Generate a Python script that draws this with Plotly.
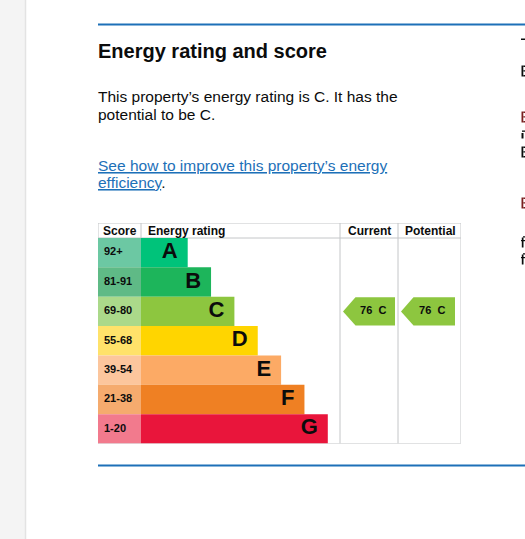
import plotly.graph_objects as go

W, H = 525, 539

# ---------------- data ----------------
bands = ["A", "B", "C", "D", "E", "F", "G"]
score_ranges = ["92+", "81-91", "69-80", "55-68", "39-54", "21-38", "1-20"]
band_min_score = [92, 81, 69, 55, 39, 21, 1]
band_length = [2, 3, 4, 5, 6, 7, 8]
band_colors = ["#00c37a", "#1db55b", "#8dc63f", "#ffd500", "#fcaa65", "#ef8023", "#e9153b"]
score_colors = ["#6cc8a3", "#5fba86", "#abd98a", "#ffe26a", "#fcc69d", "#f5ab6e", "#f27a8d"]
current_score = 76
potential_score = 76
column_titles = ["Score", "Energy rating", "Current", "Potential"]

FONT = "Liberation Sans, Arial, sans-serif"
INK = "#0b0c0c"
BLUE = "#1d70b8"
BORDER = "#c4c6c8"
DARKRED = "#7a1f1f"


def band_index(score):
    for i, m in enumerate(band_min_score):
        if score >= m:
            return i
    return len(bands) - 1


# ---------------- layout geometry (pixels) ----------------
def pxx(p):
    return p / W


def pxy(p):
    return 1 - p / H


T_LEFT, T_RIGHT = 98, 461
T_TOP, T_HEAD, T_BOTTOM = 223, 238, 443.5
RATING_X0 = 141
UNIT = 23.35
ROW = (T_BOTTOM - T_HEAD) / len(bands)


def ux(p):
    return (p - RATING_X0) / UNIT


def uy(p):
    return (p - T_HEAD) / ROW - 0.5


COL_CUR = (340, 398)
COL_POT = (398, 461)

idx = list(range(len(bands)))
x_left = ux(T_LEFT)
x_right = ux(T_RIGHT)
y_top = uy(T_TOP)
y_bottom = uy(T_BOTTOM)

fig = go.Figure()

# score column cells
fig.add_trace(go.Bar(
    orientation="h", y=idx, x=[ux(RATING_X0) - x_left] * len(bands), base=x_left,
    width=1, marker=dict(color=score_colors, line=dict(width=0)), hoverinfo="skip",
))
# rating bars
fig.add_trace(go.Bar(
    orientation="h", y=idx, x=band_length, base=0,
    width=1, marker=dict(color=band_colors, line=dict(width=0)), hoverinfo="skip",
))
# band letters
fig.add_trace(go.Scatter(
    mode="text", x=[v - 10 / UNIT for v in band_length], y=idx, text=bands,
    textposition="middle left",
    textfont=dict(family=FONT, size=22, color=INK, weight="bold"), hoverinfo="skip",
))
# score labels
fig.add_trace(go.Scatter(
    mode="text", x=[x_left + 6 / UNIT] * len(bands), y=idx, text=score_ranges,
    textposition="middle right",
    textfont=dict(family=FONT, size=11, color=INK, weight="bold"), hoverinfo="skip",
))


# current / potential arrows
def add_arrow(score, col, inset_l, inset_r):
    r = band_index(score)
    tip = ux(col[0] + inset_l)
    body = ux(col[0] + inset_l + 12.5)
    right = ux(col[1] - inset_r)
    top, bot = r - 0.48, r + 0.48
    fig.add_trace(go.Scatter(
        x=[tip, body, right, right, body, tip], y=[r, top, top, bot, bot, r],
        mode="lines", fill="toself", fillcolor=band_colors[r],
        line=dict(width=0, color=band_colors[r]), hoverinfo="skip",
    ))
    fig.add_trace(go.Scatter(
        x=[(body + right) / 2 - 2 / UNIT], y=[r], mode="text",
        text=[f"{score}\u00a0\u00a0{bands[r]}"], textposition="middle center",
        textfont=dict(family=FONT, size=11, color=INK, weight="bold"), hoverinfo="skip",
    ))


add_arrow(current_score, COL_CUR, 3, 3)
add_arrow(potential_score, COL_POT, 3, 6)

shapes = []
# left grey page strip
shapes.append(dict(type="rect", xref="paper", yref="paper", x0=0, x1=pxx(25), y0=0, y1=1,
                   fillcolor="#f4f4f4", line=dict(width=0), layer="below"))
shapes.append(dict(type="line", xref="paper", yref="paper", x0=pxx(25.5), x1=pxx(25.5), y0=0, y1=1,
                   line=dict(color="#e3e3e3", width=1.5), layer="below"))
# blue section rules
for yy in (24.5, 465.5):
    shapes.append(dict(type="line", xref="paper", yref="paper", x0=pxx(98), x1=1.01,
                       y0=pxy(yy), y1=pxy(yy), line=dict(color=BLUE, width=2)))
# table borders
shapes.append(dict(type="rect", xref="x", yref="y", x0=x_left, x1=x_right, y0=y_top, y1=y_bottom,
                   line=dict(color=BORDER, width=1), layer="below"))
shapes.append(dict(type="line", xref="x", yref="y", x0=x_left, x1=x_right, y0=-0.5, y1=-0.5,
                   line=dict(color=BORDER, width=1), layer="below"))
shapes.append(dict(type="line", xref="x", yref="y", x0=0, x1=0, y0=y_top, y1=-0.5,
                   line=dict(color=BORDER, width=1), layer="below"))
for c in (COL_CUR[0], COL_POT[0]):
    shapes.append(dict(type="line", xref="x", yref="y", x0=ux(c), x1=ux(c), y0=y_top, y1=y_bottom,
                       line=dict(color=BORDER, width=1), layer="below"))


# slivers of the neighbouring column's glyphs, cut by the window edge
def prect(x0, x1, y0, y1, color):
    shapes.append(dict(type="rect", xref="paper", yref="paper", x0=pxx(x0), x1=pxx(x1),
                       y0=pxy(y1), y1=pxy(y0), fillcolor=color, line=dict(width=0)))


for yy, kind, col in [(44, "T", INK), (71, "E", INK), (117, "E", DARKRED), (134, "a", INK),
                      (152, "E", INK), (203, "E", DARKRED), (242, "f", INK), (259, "f", INK)]:
    if kind == "T":
        prect(521, 525, yy - 5.5, yy - 4, col)
    elif kind == "E":
        prect(521.5, 523.3, yy - 5.5, yy + 5.5, col)
        prect(523.3, 525, yy - 5.5, yy - 4, col)
        prect(523.3, 525, yy - 0.8, yy + 0.6, col)
        prect(523.3, 525, yy + 4, yy + 5.5, col)
    elif kind == "a":
        prect(521.5, 523.5, yy - 1, yy + 4.5, col)
        prect(522, 525, yy - 3.5, yy - 2.2, col)
    elif kind == "f":
        prect(521.8, 523.5, yy - 4.5, yy + 5.5, col)
        prect(521, 525, yy - 2, yy - 0.8, col)
        prect(523, 525, yy - 5.8, yy - 4.6, col)

ann = []


def text(x, y, s, size, color=INK, bold=False, xanchor="left"):
    ann.append(dict(
        x=pxx(x), y=pxy(y), xref="paper", yref="paper", text=s, showarrow=False,
        xanchor=xanchor, yanchor="middle",
        font=dict(family=FONT, size=size, color=color, weight="bold" if bold else "normal"),
        borderpad=0,
    ))


text(96.5, 51, "Energy rating and score", 20, bold=True)
text(96.5, 96, "This property\u2019s energy rating is C. It has the", 15.5)
text(96.5, 114, "potential to be C.", 15.5)
text(96.5, 165, "<u>See how to improve this property\u2019s energy</u>", 15.5, color=BLUE)
text(96.5, 182, "<u>efficiency</u><span style='color:#0b0c0c'>.</span>", 15.5, color=BLUE)

# column headers
text(102, 231, column_titles[0], 12, bold=True)
text(147, 231, column_titles[1], 12, bold=True)
text(369, 231, column_titles[2], 12, bold=True, xanchor="center")
text(430.5, 231, column_titles[3], 12, bold=True, xanchor="center")

fig.update_layout(
    width=W, height=H, margin=dict(l=0, r=0, t=0, b=0),
    paper_bgcolor="white", plot_bgcolor="rgba(0,0,0,0)",
    showlegend=False, barmode="overlay",
    xaxis=dict(domain=[pxx(T_LEFT), pxx(T_RIGHT)], range=[x_left, x_right], visible=False, fixedrange=True),
    yaxis=dict(domain=[pxy(T_BOTTOM), pxy(T_TOP)], range=[y_bottom, y_top], visible=False, fixedrange=True),
    shapes=shapes, annotations=ann,
)

fig.write_html("out.html", config={"displayModeBar": False},
               post_script="document.body.style.margin='0';")
